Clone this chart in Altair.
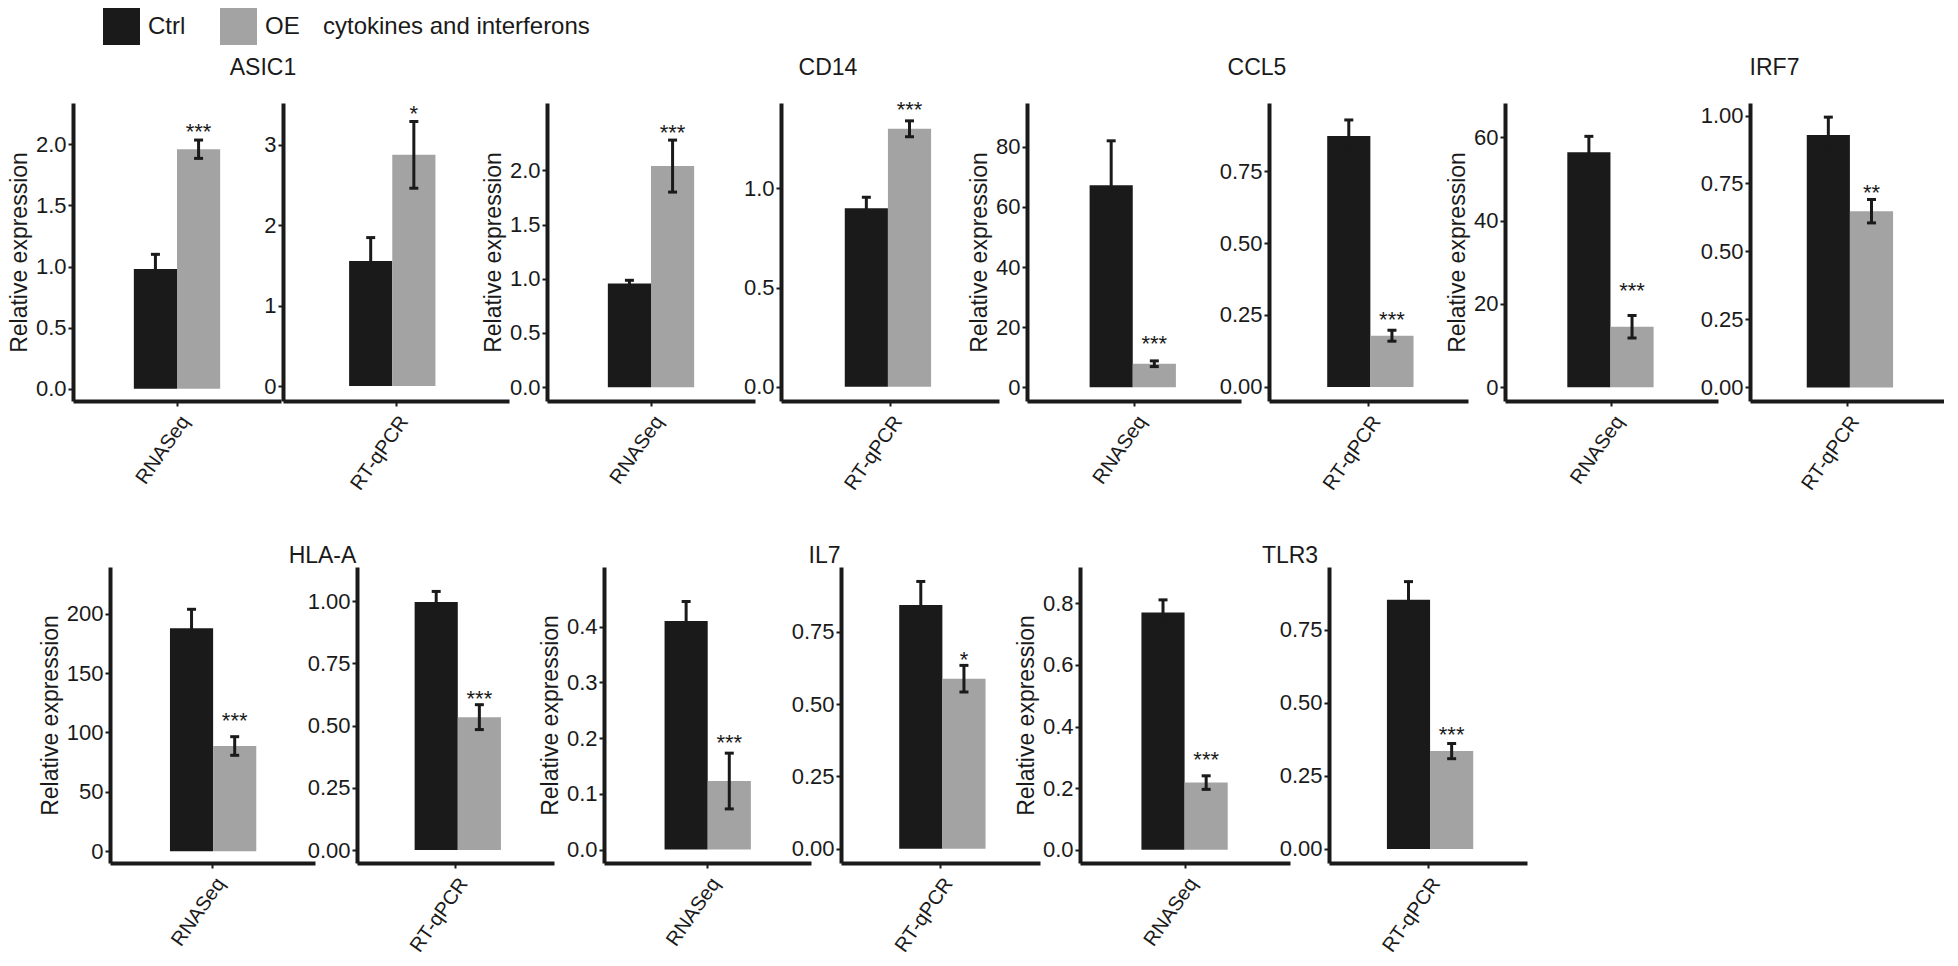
import altair as alt
import pandas as pd

# ---------------- data ----------------
genes = ["ASIC1", "CD14", "CCL5", "IRF7", "HLA-A", "IL7", "TLR3"]
methods = ["RNASeq", "RT-qPCR"]
groups = ["Ctrl", "OE"]

ctrl_mean = [[0.98, 1.556], [0.956, 0.90], [67.2, 0.872], [56.4, 0.928],
             [187.8, 0.997], [0.41, 0.843], [0.77, 0.853]]
ctrl_err = [[0.12, 0.29], [0.03, 0.055], [14.8, 0.056], [3.8, 0.066],
            [16.0, 0.042], [0.035, 0.081], [0.041, 0.062]]
oe_mean = [[1.96, 2.875], [2.04, 1.30], [7.8, 0.178], [14.5, 0.648],
           [88.6, 0.534], [0.123, 0.588], [0.218, 0.335]]
oe_err = [[0.075, 0.415], [0.24, 0.04], [0.95, 0.019], [2.7, 0.043],
          [7.85, 0.05], [0.05, 0.046], [0.022, 0.026]]
sig = [["***", "*"], ["***", "***"], ["***", "***"], ["***", "**"],
       ["***", "***"], ["***", "*"], ["***", "***"]]
star_y = [[2.14, 3.45], [2.39, 1.42], [15.9, 0.25], [24.3, 0.735],
          [113.8, 0.627], [0.201, 0.67], [0.308, 0.408]]

# visible axis extent of each panel, in data units
y_domain = [[[-0.10, 2.15], [-0.186, 3.47]], [[-0.128, 2.41], [-0.072, 1.42]],
            [[-4.6, 86.6], [-0.049, 0.98]], [[-3.3, 63.4], [-0.05, 1.046]],
            [[-10.0, 215.0], [-0.052, 1.097]], [[-0.024, 0.471], [-0.049, 0.974]],
            [[-0.043, 0.856], [-0.048, 0.965]]]
y_ticks = [[[0, 0.5, 1, 1.5, 2], [0, 1, 2, 3]],
           [[0, 0.5, 1, 1.5, 2], [0, 0.5, 1]],
           [[0, 20, 40, 60, 80], [0, 0.25, 0.5, 0.75]],
           [[0, 20, 40, 60], [0, 0.25, 0.5, 0.75, 1]],
           [[0, 50, 100, 150, 200], [0, 0.25, 0.5, 0.75, 1]],
           [[0, 0.1, 0.2, 0.3, 0.4], [0, 0.25, 0.5, 0.75]],
           [[0, 0.2, 0.4, 0.6, 0.8], [0, 0.25, 0.5, 0.75]]]

legend_title = "cytokines and interferons"
y_title = "Relative expression"

# ---------------- layout / style ----------------
FONT = "Liberation Sans"
TXT = "#1a1a1a"
BAR_COLORS = ["#1a1a1a", "#a3a3a3"]
ROW_H = [298, 296]
ROW_GAP = 51
panel_w = [[208, 226], [208, 218], [214, 199], [213, 194],
           [205, 197], [207, 199], [210, 198]]
# how far below the row top each panel's y axis starts in the original
panel_top = [[23, 4], [23, 2], [24, 2], [20, 0],
             [29, 10], [20, 0], [19, 0]]
# horizontal gaps before each panel of a row (first = left indent)
row_gaps = [[0, 2, 38, 26, 28, 28, 37, 32],
            [37, 42, 50, 30, 40, 39]]
title_dx = [86, 177, 123, 163, 110, 117, 105]
title_off = [5, 5, 5, 5, -19, -19, -19]
LEGEND_POS = (-180, -95)   # relative to the ASIC1 RT-qPCR panel


def fmt_for(ticks):
    dec = 0
    for t in ticks:
        s = repr(float(t)).rstrip("0")
        if "." in s:
            dec = max(dec, len(s.split(".")[1]))
    return "d" if dec == 0 else f".{dec}f"


def panel(gi, mi, legend_on):
    m = methods[mi]
    rows = []
    for g in groups:
        mean = ctrl_mean[gi][mi] if g == "Ctrl" else oe_mean[gi][mi]
        err = ctrl_err[gi][mi] if g == "Ctrl" else oe_err[gi][mi]
        rows.append({"method": m, "group": g, "value": mean,
                     "lower": mean - err, "upper": mean + err,
                     "sig": sig[gi][mi] if g == "OE" else "",
                     "star_y": star_y[gi][mi]})
    df = pd.DataFrame(rows)
    H = ROW_H[0] if gi < 4 else ROW_H[1]
    W = panel_w[gi][mi]
    lo, hi = y_domain[gi][mi]
    # keep the bars' pixel scale of the original while the axis spans the full row
    hi_full = lo + (hi - lo) * H / (H - panel_top[gi][mi])
    yscale = alt.Scale(domain=[lo, hi_full], nice=False, zero=False)
    xscale = alt.Scale(paddingInner=0, paddingOuter=0.705)
    xoff = alt.XOffset("group:N", scale=alt.Scale(domain=groups, paddingInner=0,
                                                  paddingOuter=0))
    xaxis = alt.Axis(title=None, labelAngle=305, labelAlign="right",
                     labelBaseline="top", labelFontSize=20, labelPadding=6,
                     labelColor=TXT, labelFont=FONT, tickSize=5, tickWidth=2,
                     tickColor=TXT, domainWidth=4, domainColor=TXT, grid=False)
    ticks = y_ticks[gi][mi]
    yaxis_kw = dict(values=ticks, format=fmt_for(ticks), labelFontSize=22,
                    labelColor=TXT, labelFont=FONT, labelPadding=2, tickSize=5,
                    tickWidth=2, tickColor=TXT, domainWidth=4, domainColor=TXT,
                    grid=False, titleFontSize=23, titleFontWeight="normal",
                    titleColor=TXT, titleFont=FONT, titlePadding=4, labelFlush=False)
    if mi == 0:
        yaxis = alt.Axis(title=y_title, **yaxis_kw)
    else:
        yaxis = alt.Axis(title=None, **yaxis_kw)

    cscale = alt.Scale(domain=groups, range=BAR_COLORS)
    if legend_on:
        legend = alt.Legend(orient="none", legendX=LEGEND_POS[0],
                            legendY=LEGEND_POS[1],
                            direction="horizontal", title=legend_title,
                            titleOrient="right",
                            titleFontSize=24, titleFontWeight="normal",
                            titleFont=FONT, titleColor=TXT, titlePadding=23,
                            titleBaseline="middle", titleLimit=600,
                            labelFontSize=24, labelFont=FONT, labelColor=TXT,
                            labelOffset=8, symbolType="square", symbolSize=1369,
                            symbolStrokeWidth=0, columnPadding=34)
        color = alt.Color("group:N", scale=cscale, legend=legend)
    else:
        color = alt.Color("group:N", scale=cscale, legend=None)

    X = alt.X("method:N", scale=xscale, axis=xaxis)
    base = alt.Chart(df)
    bars = base.mark_bar().encode(
        x=X, xOffset=xoff,
        y=alt.Y("value:Q", scale=yscale, axis=yaxis),
        y2=alt.Y2(datum=0),
        color=color,
    )
    rule = base.mark_rule(strokeWidth=3, color=TXT).encode(
        x=X, xOffset=xoff,
        y=alt.Y("lower:Q", scale=yscale, axis=yaxis),
        y2="upper:Q",
    )
    cap_hi = base.mark_tick(thickness=3, size=9, color=TXT, opacity=1).encode(
        x=X, xOffset=xoff, y=alt.Y("upper:Q", scale=yscale, axis=yaxis))
    cap_lo = base.mark_tick(thickness=3, size=9, color=TXT, opacity=1).encode(
        x=X, xOffset=xoff, y=alt.Y("lower:Q", scale=yscale, axis=yaxis))
    stars = base.transform_filter(alt.datum.group == "OE").mark_text(
        fontSize=22, dy=5, color=TXT, font=FONT).encode(
        x=X, xOffset=xoff, y=alt.Y("star_y:Q", scale=yscale, axis=yaxis),
        text="sig:N")
    layer = alt.layer(bars, rule, cap_hi, cap_lo, stars).properties(width=W, height=H)
    if mi == 0:
        layer = layer.properties(
            title=alt.TitleParams(text=genes[gi], anchor="middle", frame="group",
                                  offset=title_off[gi], dx=title_dx[gi],
                                  baseline="alphabetic", fontSize=23,
                                  fontWeight="normal", color=TXT, font=FONT))
    return layer


def spacer(w, h):
    return alt.Chart(pd.DataFrame({"a": [0]})).mark_point(opacity=0).encode(
        x=alt.X("a:Q", axis=None), y=alt.Y("a:Q", axis=None)
    ).properties(width=w, height=h)


def build_row(r, gene_ids):
    cells = []
    k = 0
    for gi in gene_ids:
        for mi in range(2):
            gap = row_gaps[r][k]
            if gap > 0:
                cells.append(spacer(gap, ROW_H[r]))
            cells.append(panel(gi, mi, gi == 0 and mi == 1))
            k += 1
    return alt.hconcat(*cells, spacing=0, bounds="flush").resolve_scale(
        x="independent", y="independent", color="independent")


row1 = build_row(0, [0, 1, 2, 3])
row2 = build_row(1, [4, 5, 6])

chart = alt.vconcat(row1, row2, spacing=ROW_GAP).resolve_scale(
    x="independent", y="independent", color="independent"
).properties(padding=0).configure(font=FONT).configure_view(strokeWidth=0)

chart.save("out.html", embed_options={"renderer": "svg", "actions": False})
